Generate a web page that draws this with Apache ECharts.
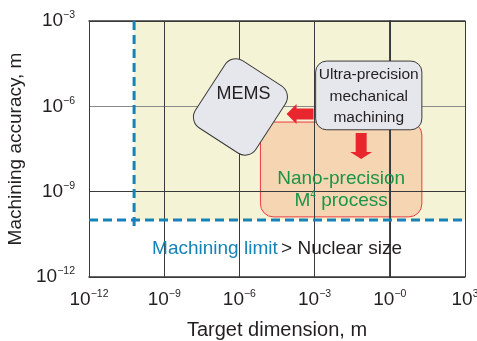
<!DOCTYPE html>
<html><head><meta charset="utf-8">
<script src="https://cdn.jsdelivr.net/npm/echarts@6/dist/echarts.min.js"></script>
<style>html,body{margin:0;padding:0;background:#fff}#c{width:477px;height:341px}</style>
</head><body><div id="c"></div>
<script>
// ---- data (real units, metres) ----
const xTickExponents = [-12, -9, -6, -3, 0, 3];
const xTickSuperscripts = ['\u221212', '\u22129', '\u22126', '\u22123', '\u22120', '3'];
const yTickExponents = [-12, -9, -6, -3];
const yTickSuperscripts = ['\u221212', '\u22129', '\u22126', '\u22123'];
const xRange = [1e-12, 1e3];
const yRange = [1e-12, 1e-3];
const machiningLimitY = 1e-10;
const nuclearSizeX = 6.3e-11;
const nuclearLineBottomY = 5e-11;
const ultraBoxX = [1.1e-3, 19];
const ultraBoxY = [1.5e-7, 3.9e-5];
const nanoBoxX = [6.9e-6, 19];
const nanoBoxY = [1.3e-10, 2.8e-7];
const memsCenter = [1.1e-6, 9.5e-7];
const leftArrowTip = [7.6e-5, 5.4e-7];
const downArrowTip = [0.072, 1.4e-8];
const ultraLines = ['Ultra-precision', 'mechanical', 'machining'];
const xTitle = 'Target dimension, m';
const yTitle = 'Machining accuracy, m';

const FONT = "'Liberation Sans', Arial, Helvetica, sans-serif";
const TXT = '#231f20';
const BLUE = '#1583b7';
const RED = '#e8262d';
const L = Math.log10;

function P(api, x, y) { return api.coord([L(x), L(y)]); }

const tickRich = {
  b: { fontSize: 19, lineHeight: 22, fontFamily: FONT, color: TXT },
  s: { fontSize: 10.5, lineHeight: 4, verticalAlign: 'top', fontFamily: FONT, color: TXT }
};

const chart = echarts.init(document.getElementById('c'), null, { renderer: 'canvas' });

const axisLineStyle = { show: true, lineStyle: { color: '#3a3a3a', width: 1.5 } };

chart.setOption({
  animation: false,
  backgroundColor: '#fff',
  grid: { left: 89, right: 12, top: 21, bottom: 64, show: false, containLabel: false, outerBoundsMode: 'none' },
  xAxis: [{
    type: 'value', min: L(xRange[0]), max: L(xRange[1]), interval: 3, z: 2,
    axisLine: axisLineStyle, axisTick: { show: false },
    splitLine: { show: true, lineStyle: { color: '#3a3a3a', width: 1 } },
    axisLabel: {
      margin: 12, rich: tickRich, hideOverlap: false,
      formatter: v => '{b|10}{s|' + xTickSuperscripts[xTickExponents.indexOf(v)] + '}'
    },
    name: xTitle, nameLocation: 'middle', nameGap: 43,
    nameTextStyle: { fontSize: 20, fontFamily: FONT, color: TXT }
  }, {
    type: 'value', position: 'top', min: L(xRange[0]), max: L(xRange[1]), interval: 3, z: 2,
    axisLine: axisLineStyle, axisTick: { show: false }, axisLabel: { show: false }, splitLine: { show: false }
  }],
  yAxis: [{
    type: 'value', min: L(yRange[0]), max: L(yRange[1]), interval: 3, z: 2,
    axisLine: axisLineStyle, axisTick: { show: false },
    splitLine: { show: true, lineStyle: { color: ['#3a3a3a', '#3a3a3a', '#8a8a8a', '#3a3a3a'], width: 1 } },
    axisLabel: {
      margin: 14, rich: tickRich,
      formatter: v => '{b|10}{s|' + yTickSuperscripts[yTickExponents.indexOf(v)] + '}'
    },
    name: yTitle, nameLocation: 'middle', nameGap: 57,
    nameTextStyle: { fontSize: 19, fontFamily: FONT, color: TXT }
  }, {
    type: 'value', position: 'right', min: L(yRange[0]), max: L(yRange[1]), interval: 3, z: 2,
    axisLine: axisLineStyle, axisTick: { show: false }, axisLabel: { show: false }, splitLine: { show: false }
  }],
  series: [{
    type: 'custom', z: 1, silent: true, clip: false,
    data: [[L(memsCenter[0]), L(memsCenter[1])]],
    renderItem: (params, api) => {
      const a = P(api, nuclearSizeX, yRange[1]);
      const b = P(api, xRange[1], machiningLimitY);
      const n1 = P(api, nanoBoxX[0], nanoBoxY[1]);
      const n2 = P(api, nanoBoxX[1], nanoBoxY[0]);
      return { type: 'group', children: [
        { type: 'rect', shape: { x: a[0], y: a[1], width: b[0] - a[0], height: b[1] - a[1] },
          style: { fill: '#f4f3d6' } },
        { type: 'rect', shape: { x: n1[0], y: n1[1], width: n2[0] - n1[0], height: n2[1] - n1[1], r: 13 },
          style: { fill: '#f6d6b2', stroke: '#ec3b3f', lineWidth: 1 } }
      ] };
    }
  }, {
    type: 'custom', z: 3, silent: true, clip: false,
    data: [[L(memsCenter[0]), L(memsCenter[1])]],
    renderItem: (params, api) => {
      const ch = [];
      // dashed limit lines
      const h1 = P(api, xRange[0], machiningLimitY), h2 = P(api, xRange[1], machiningLimitY);
      ch.push({ type: 'line', shape: { x1: h1[0], y1: h1[1], x2: h2[0], y2: h2[1] },
        style: { stroke: BLUE, lineWidth: 3, lineDash: [9, 5] } });
      const v1 = P(api, nuclearSizeX, yRange[1]), v2 = P(api, nuclearSizeX, nuclearLineBottomY);
      ch.push({ type: 'line', shape: { x1: v1[0], y1: v1[1], x2: v2[0], y2: v2[1] },
        style: { stroke: BLUE, lineWidth: 3, lineDash: [9, 5] } });
      // MEMS rotated box
      const m = P(api, memsCenter[0], memsCenter[1]);
      ch.push({ type: 'rect', x: m[0], y: m[1], rotation: -33 * Math.PI / 180,
        shape: { x: -36, y: -40, width: 72, height: 80, r: 13 },
        style: { fill: '#e6e7ec', stroke: '#3a3a3a', lineWidth: 1 } });
      ch.push({ type: 'text', x: m[0] + 3, y: m[1] - 13,
        style: { text: 'MEMS', fontSize: 18, fontFamily: FONT, fill: TXT, align: 'center', verticalAlign: 'middle' } });
      // Ultra-precision box
      const u1 = P(api, ultraBoxX[0], ultraBoxY[1]), u2 = P(api, ultraBoxX[1], ultraBoxY[0]);
      ch.push({ type: 'rect', shape: { x: u1[0], y: u1[1], width: u2[0] - u1[0], height: u2[1] - u1[1], r: 11 },
        style: { fill: '#e6e7ec', stroke: '#3a3a3a', lineWidth: 1 } });
      const ucx = (u1[0] + u2[0]) / 2, ucy = (u1[1] + u2[1]) / 2;
      ultraLines.forEach((t, i) => {
        ch.push({ type: 'text', x: ucx, y: ucy + (i - 1) * 21.5 + 1,
          style: { text: t, fontSize: 15.5, fontFamily: FONT, fill: TXT, align: 'center', verticalAlign: 'middle' } });
      });
      // arrows
      const la = P(api, leftArrowTip[0], leftArrowTip[1]);
      ch.push({ type: 'polygon', x: la[0], y: la[1],
        shape: { points: [[0, 0], [10, -10], [10, -5.5], [27, -5.5], [27, 5.5], [10, 5.5], [10, 10]] },
        style: { fill: RED } });
      const da = P(api, downArrowTip[0], downArrowTip[1]);
      ch.push({ type: 'polygon', x: da[0], y: da[1],
        shape: { points: [[0, 0], [-11, -7], [-5.5, -7], [-5.5, -26], [5.5, -26], [5.5, -7], [11, -7]] },
        style: { fill: RED } });
      // Nano-precision text
      const n1 = P(api, nanoBoxX[0], nanoBoxY[1]), n2 = P(api, nanoBoxX[1], nanoBoxY[0]);
      const ncx = (n1[0] + n2[0]) / 2;
      ch.push({ type: 'text', x: ncx, y: n2[1] - 38,
        style: { text: 'Nano-precision', fontSize: 19, fontFamily: FONT, fill: '#1b9448', align: 'center', verticalAlign: 'middle' } });
      ch.push({ type: 'text', x: ncx, y: n2[1] - 16,
        style: { text: '{g|M}{s|4}{g| process}', align: 'center', verticalAlign: 'middle',
          rich: { g: { fontSize: 19, lineHeight: 22, fontFamily: FONT, fill: '#1b9448', color: '#1b9448' },
                  s: { fontSize: 10, lineHeight: 8, verticalAlign: 'top', fontFamily: FONT, fill: '#1b9448', color: '#1b9448' } } } });
      // machining limit text
      const t1 = P(api, xRange[0], machiningLimitY), t2 = P(api, xRange[1], yRange[0]);
      ch.push({ type: 'text', x: (t1[0] + t2[0]) / 2, y: (t1[1] + t2[1]) / 2,
        style: { text: '{b|Machining limit} {k|> Nuclear size}', align: 'center', verticalAlign: 'middle',
          rich: { b: { fontSize: 19, fontFamily: FONT, fill: BLUE, color: BLUE },
                  k: { fontSize: 19, fontFamily: FONT, fill: TXT, color: TXT } } } });
      return { type: 'group', children: ch };
    }
  }]
});
</script></body></html>
